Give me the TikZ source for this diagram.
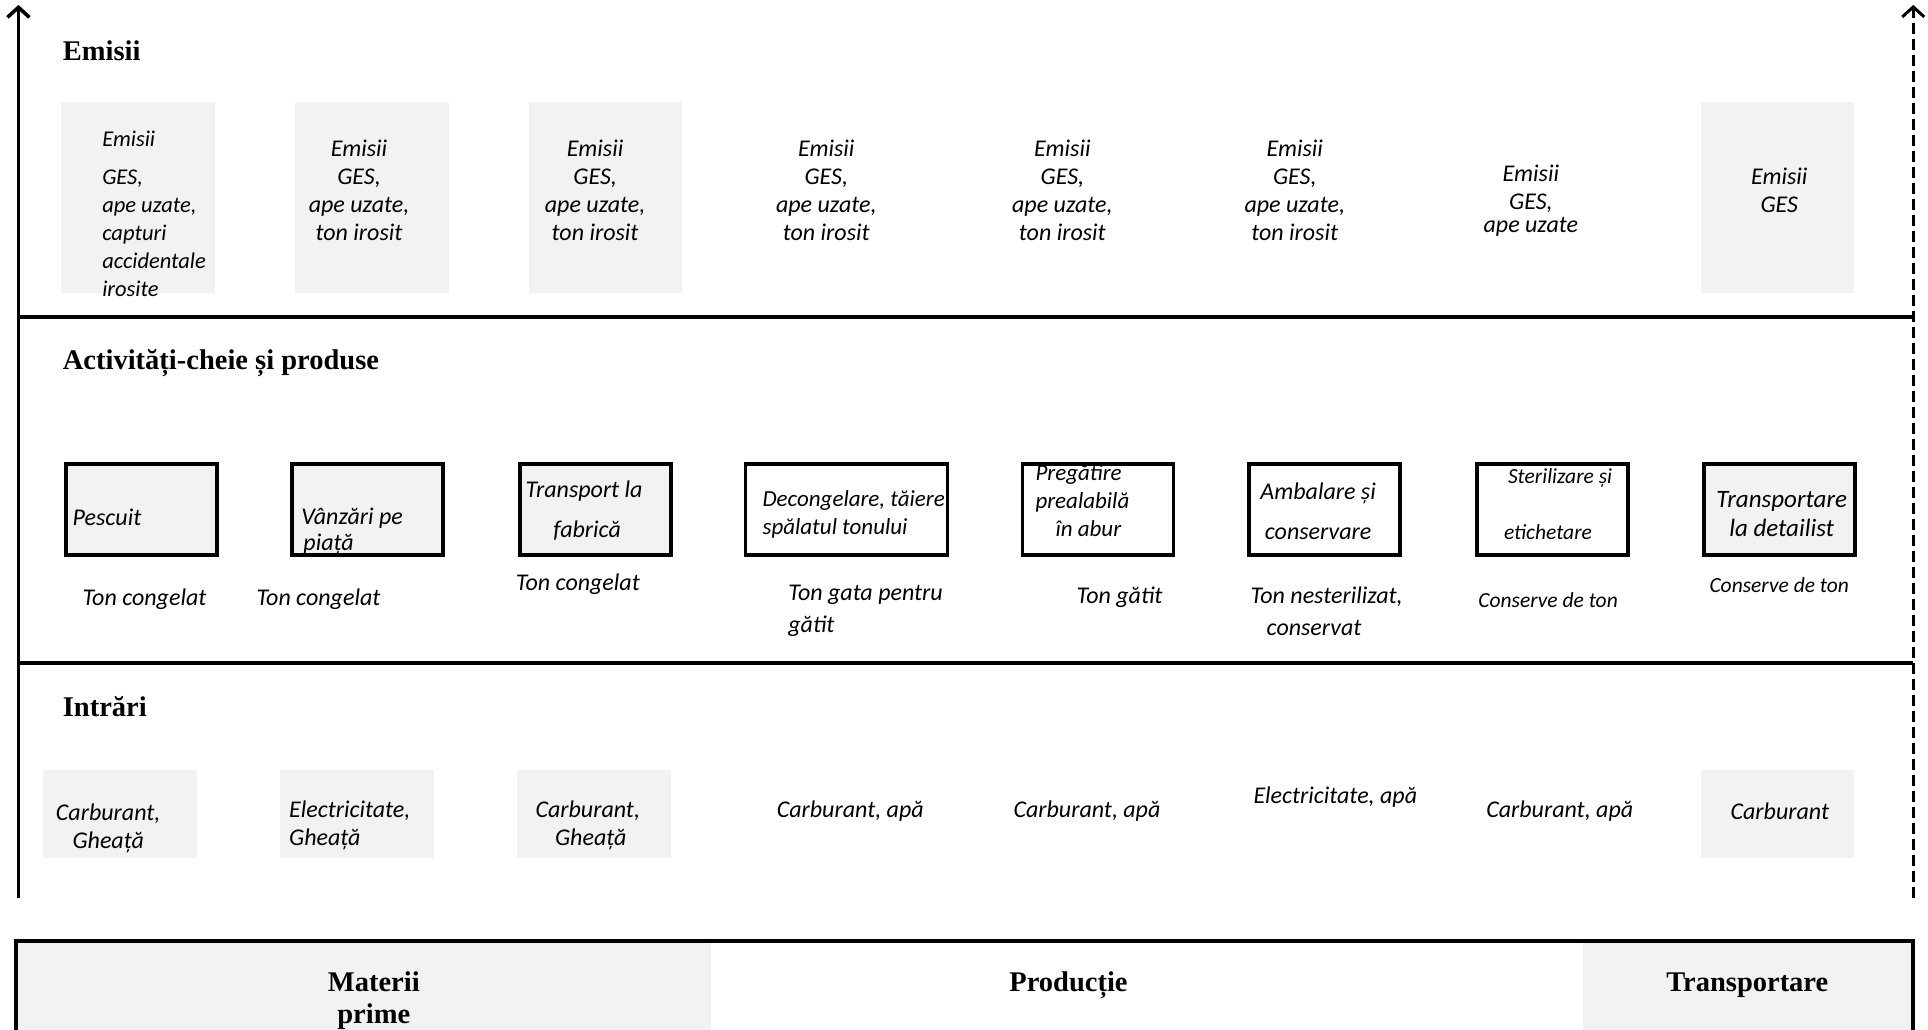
\documentclass[tikz,border=0pt]{standalone}
\usepackage{fontspec}
\setmainfont{Carlito}
\newfontfamily\headfont{Liberation Serif}
\usetikzlibrary{arrows.meta}
\definecolor{boxgray}{RGB}{242,242,242}
\tikzset{
  txt/.style={font=\itshape\fontsize{24}{28}\selectfont, inner sep=0pt},
  smalltxt/.style={font=\itshape\fontsize{21.5}{26}\selectfont, inner sep=0pt},
  head/.style={font=\headfont\bfseries\fontsize{28.5}{32}\selectfont, inner sep=0pt},
  ebox/.style={fill=boxgray, inner sep=0pt, minimum width=153.7pt, minimum height=190.6pt},
  ibox/.style={fill=boxgray, inner sep=0pt, minimum width=153.7pt, minimum height=88.5pt},
  abox/.style={draw=black, line width=3.8pt, inner sep=0pt, minimum width=151pt, minimum height=91pt},
  agray/.style={abox, fill=boxgray},
  axis/.style={line width=3.6pt},
  rule/.style={line width=4pt},
  tip/.style={-{Straight Barb[length=10pt,width=22pt]}},
}
\begin{document}
\begin{tikzpicture}[x=1.2296pt, y=-1.2296pt]
\clip (0,0) rectangle (1568,837);
\fill[white] (0,0) rectangle (1568,837);

% ---- frame: axes and band separators ----
\coordinate (lb) at (15,730);
\coordinate (lt) at (15,4);
\coordinate (rb) at (1556,730);
\coordinate (rt) at (1556,4);
\coordinate (r1l) at (15,258);
\coordinate (r1r) at (1556,258);
\coordinate (r2l) at (15,539);
\coordinate (r2r) at (1556,539);
\draw[axis, tip] (lb) -- (lt);
\draw[line width=3pt, dash pattern=on 11pt off 5pt, tip] (rb) -- (rt);
\draw[rule] (r1l) -- (r1r);
\draw[rule] (r2l) -- (r2r);

% ---- band titles ----
\node[head, anchor=west] (hem) at (51,41) {Emisii};
\node[head, anchor=west] (hact) at (51,295) {Activități-cheie și produse};
\node[head, anchor=west] (hin) at (51,575) {Intrări};

% ---- emissions ----
\node[ebox] (eb1) at (112.5,160.5) {};
\node[ebox] (eb2) at (302.5,160.5) {};
\node[ebox] (eb3) at (492.5,160.5) {};
\node[ebox] (eb8) at (1445.5,160.5) {};
\node[txt, anchor=west, align=left, font=\itshape\fontsize{22.5}{28}\selectfont] (e1) at (83,174) {Emisii\\[10pt]GES,\\ape uzate,\\capturi\\accidentale\\irosite};
\node[txt, align=center] (e2) at (292,155) {Emisii\\GES,\\ape uzate,\\ton irosit};
\node[txt, align=center] (e3) at (484,155) {Emisii\\GES,\\ape uzate,\\ton irosit};
\node[txt, align=center] (e4) at (672,155) {Emisii\\GES,\\ape uzate,\\ton irosit};
\node[txt, align=center] (e5) at (864,155) {Emisii\\GES,\\ape uzate,\\ton irosit};
\node[txt, align=center] (e6) at (1053,155) {Emisii\\GES,\\ape uzate,\\ton irosit};
\node[txt, align=center] (e7) at (1245,163) {Emisii\\GES,\\[-5pt]ape uzate};
\node[txt, align=center] (e8) at (1447,154.5) {Emisii\\GES};

% ---- key activities ----
\node[agray] (a1) at (115,414.5) {};
\node[agray] (a2) at (299,414.5) {};
\node[agray] (a3) at (484,414.5) {};
\node[abox, minimum width=202pt] (a4) at (688.5,414.5) {};
\node[abox] (a5) at (893,414.5) {};
\node[abox] (a6) at (1077,414.5) {};
\node[abox] (a7) at (1262.5,414.5) {};
\node[agray] (a8) at (1447,414.5) {};
\node[txt, anchor=west] (a1t) at (59,421) {Pescuit};
\node[txt, anchor=west, align=left, font=\itshape\fontsize{24}{26}\selectfont] (a2t) at (245,432) {Vânzări pe\\\hspace*{2pt}piață};
\node[txt, align=center] (a3t) at (475,415.5) {Transport la\\[12pt]\hspace*{6pt}fabrică};
\node[txt, anchor=west, align=left, font=\itshape\fontsize{23}{28}\selectfont] (a4t) at (620,418.5) {Decongelare, tăiere\\spălatul tonului};
\node[txt, anchor=west, align=left, font=\itshape\fontsize{23}{28}\selectfont] (a5t) at (842,407.5) {Pregătire\\prealabilă\\\hspace*{20pt}în abur};
\node[txt, align=center] (a6t) at (1072,415.5) {Ambalare și\\[12pt]conservare};
\node[smalltxt, anchor=west, align=left] (a7t) at (1223,410) {\hspace*{4pt}Sterilizare și\\[30pt]etichetare};
\node[txt, align=center, font=\itshape\fontsize{25}{29}\selectfont] (a8t) at (1449,418) {Transportare\\la detailist};

% ---- products ----
\node[txt] (p1) at (117.5,487) {Ton congelat};
\node[txt] (p2) at (259,487) {Ton congelat};
\node[txt] (p3) at (470,475) {Ton congelat};
\node[txt, anchor=west, align=left] (p4) at (641,497) {Ton gata pentru\\[4pt]gătit};
\node[txt] (p5) at (910.5,486) {Ton gătit};
\node[txt, anchor=west, align=left] (p6) at (1017,497) {Ton nesterilizat,\\[4pt]\hspace*{16pt}conservat};
\node[smalltxt] (p7) at (1259,488) {Conserve de ton};
\node[smalltxt] (p8) at (1447,476) {Conserve de ton};

% ---- inputs ----
\node[ibox] (ib1) at (97.5,662) {};
\node[ibox] (ib2) at (290.5,662) {};
\node[ibox] (ib3) at (483,662) {};
\node[ibox] (ib8) at (1445.5,662) {};
\node[txt, align=center] (i1) at (88,674) {Carburant,\\Gheață};
\node[txt, anchor=west, align=left] (i2) at (235,671) {Electricitate,\\Gheață};
\node[txt, align=center] (i3) at (478,671.5) {Carburant,\\\hspace*{6pt}Gheață};
\node[txt] (i4) at (691.5,660) {Carburant, apă};
\node[txt] (i5) at (884,660) {Carburant, apă};
\node[txt] (i6) at (1086,648) {Electricitate, apă};
\node[txt] (i7) at (1268.5,660) {Carburant, apă};
\node[txt] (i8) at (1447.5,660) {Carburant};

% ---- life-cycle stages ----
\fill[boxgray] (13,765) rectangle (578,860);
\fill[boxgray] (1287,765) rectangle (1556,860);
\draw[rule] (13,860) -- (13,765) -- (1556,765) -- (1556,860);
\node[head, align=center] (s1) at (304,813.5) {Materii\\prime};
\node[head] (s2) at (869,801) {Producție};
\node[head] (s3) at (1421,801) {Transportare};
\end{tikzpicture}
\end{document}
